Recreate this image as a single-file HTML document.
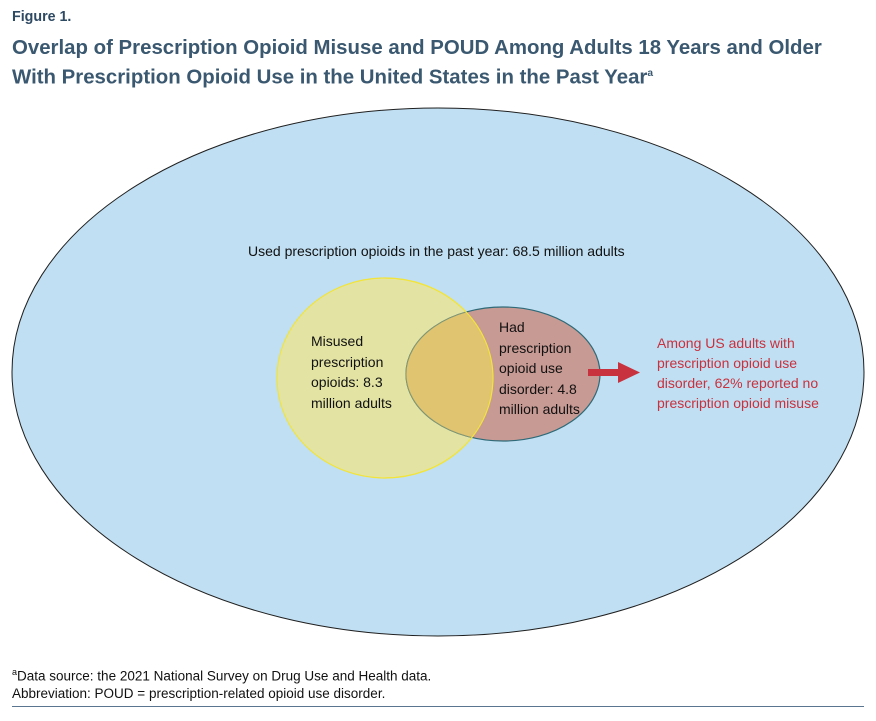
<!DOCTYPE html>
<html><head><meta charset="utf-8"><style>
body{margin:0;width:876px;height:721px;background:#fff;font-family:"Liberation Sans",sans-serif;position:relative;overflow:hidden}
.t{position:absolute;white-space:nowrap}
</style></head><body>
<div class="t" style="left:12px;top:8px;font-size:15px;font-weight:bold;color:#2e4a63;transform:scaleX(0.95);transform-origin:left">Figure 1.</div>
<div class="t" style="left:12px;top:35px;font-size:20px;font-weight:bold;color:#3a5870;line-height:26px;transform:scaleX(1.02);transform-origin:left">Overlap of Prescription Opioid Misuse and POUD Among Adults 18 Years and Older<br>With Prescription Opioid Use in the United States in the Past Year<sup style="font-size:10px">a</sup></div>
<svg width="876" height="721" style="position:absolute;left:0;top:0">
<defs><clipPath id="cy"><ellipse cx="385" cy="378" rx="108" ry="100"/></clipPath></defs>
<ellipse cx="438" cy="372" rx="426" ry="264" fill="#c0dff2" stroke="#1f1f1f" stroke-width="1"/>
<ellipse cx="385" cy="378" rx="108" ry="100" fill="#e3e4a4" stroke="#f2e43a" stroke-width="1.2"/>
<ellipse cx="503" cy="374" rx="97" ry="67" fill="#c89a94" stroke="#2e6a78" stroke-width="1.2"/>
<ellipse cx="503" cy="374" rx="97" ry="67" fill="#e0c470" clip-path="url(#cy)" stroke="#8a9a70" stroke-width="1"/>
<path d="M385 278 A108 100 0 0 1 493 378 A108 100 0 0 1 385 478" fill="none" stroke="#f2e43a" stroke-width="1.2"/>
<rect x="588" y="369" width="32" height="7" fill="#c8313e"/>
<polygon points="618,362 640,372.5 618,383" fill="#c8313e"/>
</svg>
<div class="t" style="left:248px;top:243px;font-size:14px;color:#111">Used prescription opioids in the past year: 68.5 million adults</div>
<div class="t" style="left:311px;top:331px;font-size:14px;line-height:20.5px;color:#111">Misused<br>prescription<br>opioids: 8.3<br>million adults</div>
<div class="t" style="left:499px;top:317px;font-size:14px;line-height:20.5px;color:#111">Had<br>prescription<br>opioid use<br>disorder: 4.8<br>million adults</div>
<div class="t" style="left:657px;top:333px;font-size:14px;line-height:20px;color:#c8313e">Among US adults with<br>prescription opioid use<br>disorder, 62% reported no<br>prescription opioid misuse</div>
<div class="t" style="left:12px;top:667px;font-size:13.5px;color:#111"><sup style="font-size:9px">a</sup>Data source: the 2021 National Survey on Drug Use and Health data.</div>
<div class="t" style="left:12px;top:686px;font-size:13.5px;color:#111">Abbreviation: POUD = prescription-related opioid use disorder.</div>
<div style="position:absolute;left:12px;top:706px;width:852px;height:1px;background:#5a7590"></div>
</body></html>
